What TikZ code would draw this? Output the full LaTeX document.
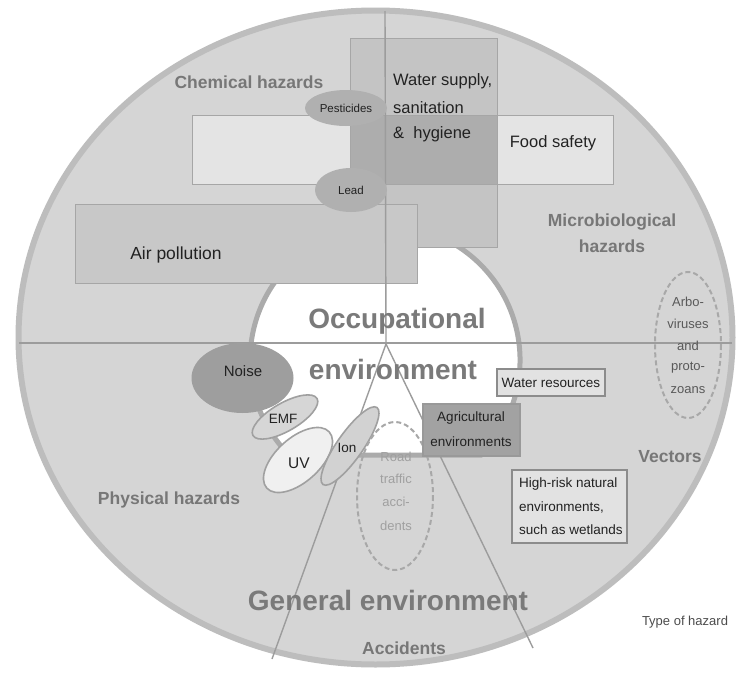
\documentclass[tikz,border=0pt]{standalone}
\usepackage{fontspec}
\setmainfont{Liberation Sans}
\definecolor{outerc}{HTML}{BDBDBD}
\definecolor{patc}{HTML}{D5D5D5}
\definecolor{occc}{HTML}{ABABAB}
\definecolor{linec}{HTML}{9C9C9C}
\definecolor{bandc}{HTML}{E4E4E4}
\definecolor{waterc}{HTML}{C4C4C4}
\definecolor{overc}{HTML}{ADADAD}
\definecolor{airc}{HTML}{C8C8C8}
\definecolor{rectc}{HTML}{A6A6A6}
\definecolor{elc}{HTML}{B0B0B0}
\definecolor{noisec}{HTML}{9E9E9E}
\definecolor{emfc}{HTML}{D6D6D6}
\definecolor{uvc}{HTML}{F0F0F0}
\definecolor{ionc}{HTML}{D2D2D2}
\definecolor{elb}{HTML}{A0A0A0}
\definecolor{boxl}{HTML}{E2E2E2}
\definecolor{agric}{HTML}{A2A2A2}
\definecolor{hzc}{HTML}{777777}
\definecolor{bigc}{HTML}{7A7A7A}
\definecolor{txc}{HTML}{222222}
\definecolor{roadc}{HTML}{A0A0A0}
\definecolor{dashc}{HTML}{A8A8A8}
\tikzset{
  hz/.style={inner sep=0pt, text=hzc, font=\fontsize{17.5}{20}\selectfont\bfseries},
  bigl/.style={inner sep=0pt, text=bigc, font=\fontsize{28}{32}\selectfont\bfseries},
  txt/.style={inner sep=0pt, text=txc, font=\fontsize{16.5}{19}\selectfont},
  sml/.style={inner sep=0pt, text=txc, font=\fontsize{13.5}{16}\selectfont},
  tiny/.style={inner sep=0pt, text=txc, font=\fontsize{11.5}{14}\selectfont},
  arbo/.style={inner sep=0pt, text=black!65, font=\fontsize{13}{15}\selectfont},
  road/.style={inner sep=0pt, text=roadc, font=\fontsize{13}{15}\selectfont},
  divline/.style={draw=linec, line width=1.4pt},
  recto/.style={draw=rectc, line width=1pt},
  boxo/.style={draw=black!45, line width=1.4pt},
  elo/.style={draw=elb, line width=1.6pt},
  dasho/.style={draw=dashc, line width=2pt, dash pattern=on 5pt off 3pt}
}
\begin{document}
\begin{tikzpicture}[x=1pt,y=-1pt]
\fill[white] (0,0) rectangle (740,675);
\useasboundingbox (0,0) rectangle (740,675);
% outer ellipse
\draw[line width=6pt, draw=outerc, fill=patc] (375.5,337.5) ellipse [x radius=357, y radius=327];
% occupational region
\draw[line width=5pt, draw=occc, fill=white] (289.1,455) arc[start angle=135.3, end angle=404.7, radius=135] -- cycle;
% dividing lines
\coordinate (top) at (385,11);
\coordinate (apex) at (386,344);
\coordinate (hl) at (19,343);
\coordinate (hr) at (732,343);
\coordinate (dl) at (272,659);
\coordinate (dr) at (533,648);
\draw[divline] (hl) -- (hr);
\draw[divline] (apex) -- (dl);
\draw[divline] (apex) -- (dr);
% rectangles
\draw[recto, fill=bandc] (192,115) rectangle (613,184);
\draw[recto, fill=waterc] (350,38) rectangle (497,247);
\draw[recto, fill=overc] (350,115) rectangle (497,184);
\draw[recto, fill=airc] (75,204) rectangle (417,283);
\draw[divline] (top) -- (apex);
% ellipses chemical
\fill[elc] (346,108) ellipse [x radius=41, y radius=18];
\fill[elc] (351,190) ellipse [x radius=36, y radius=22];
% physical
\fill[noisec] (242.5,378) ellipse [x radius=51, y radius=35];
\draw[elo, fill=emfc, rotate around={30:(285,417)}] (285,417) ellipse [x radius=37, y radius=14];
\draw[elo, fill=uvc, rotate around={42:(298,460)}] (298,460) ellipse [x radius=42, y radius=22];
\draw[elo, fill=ionc, rotate around={55:(350,446)}] (350,446) ellipse [x radius=47, y radius=13];
% dashed ellipses
\draw[dasho] (395,496) ellipse [x radius=38, y radius=74];
\draw[dasho] (688,345) ellipse [x radius=33, y radius=73];
% boxes
\draw[boxo, fill=boxl] (497,369) rectangle (605,396);
\draw[boxo, draw=black!40, fill=agric] (423,404) rectangle (520,456);
\draw[boxo, fill=boxl] (512,470) rectangle (627,543);
% texts
\node[hz] (chem) at (249,82) {Chemical hazards};
\node[txt, anchor=west] (ws1) at (393,81) {Water supply,};
\node[txt, anchor=west] (ws2) at (393,108) {sanitation};
\node[txt, anchor=west] (ws3) at (393,134) {\&\ \ hygiene};
\node[tiny] (pest) at (346,108) {Pesticides};
\node[txt] (food) at (553,143) {Food safety};
\node[tiny] (lead) at (351,190) {Lead};
\node[txt, font=\fontsize{17.5}{20}\selectfont] (air) at (176,255) {Air pollution};
\node[hz] (micro1) at (612,222) {Microbiological};
\node[hz] (micro2) at (612,246) {hazards};
\node[bigl] (occ1) at (397,321) {Occupational};
\node[bigl] (occ2) at (393,369) {environment};
\node[txt, font=\fontsize{15}{18}\selectfont] (noise) at (243,371) {Noise};
\node[sml] (wres) at (551,383) {Water resources};
\node[sml] (emf) at (283,419) {EMF};
\node[sml] (agr1) at (471,418) {Agricultural};
\node[sml] (agr2) at (471,442) {environments};
\node[arbo] (ar1) at (688,302) {Arbo-};
\node[arbo] (ar2) at (688,324) {viruses};
\node[arbo] (ar3) at (688,346) {and};
\node[arbo] (ar4) at (688,368) {proto-};
\node[arbo] (ar5) at (688,390) {zoans};
\node[txt, font=\fontsize{15.5}{18}\selectfont] (uv) at (299,463) {UV};
\node[sml] (ion) at (347,448) {Ion};
\node[road] (rd1) at (396,457) {Road};
\node[road] (rd2) at (396,479) {traffic};
\node[road] (rd3) at (396,502) {acci-};
\node[road] (rd4) at (396,526) {dents};
\node[hz] (vec) at (670,457) {Vectors};
\node[sml, anchor=west] (hr1) at (519,484) {High-risk natural};
\node[sml, anchor=west] (hr2) at (519,507) {environments,};
\node[sml, anchor=west] (hr3) at (519,530) {such as wetlands};
\node[hz] (phys) at (169,500) {Physical hazards};
\node[bigl] (gen) at (388,600) {General environment};
\node[hz] (acc) at (404,648) {Accidents};
\node[sml, text=black!70, font=\fontsize{13}{15}\selectfont] (toh) at (685,622) {Type of hazard};
\end{tikzpicture}
\end{document}
